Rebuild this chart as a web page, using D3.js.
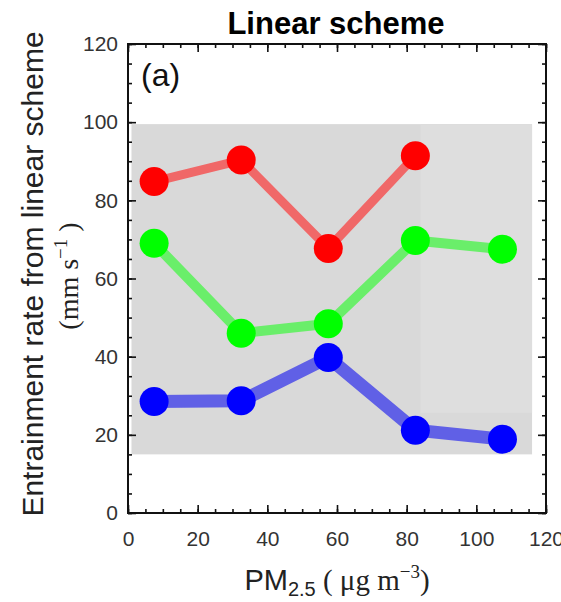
<!DOCTYPE html>
<html>
<head>
<meta charset="utf-8">
<script src="https://cdn.jsdelivr.net/npm/d3@7"></script>
<style>
  body { margin: 0; background: #fff; }
  text { font-family: "Liberation Sans", Arial, sans-serif; }
  .serif { font-family: "Liberation Serif", "Times New Roman", serif; }
</style>
</head>
<body>
<div id="chart"></div>
<script>
// data
var pm25 = [7.5, 32.5, 57.5, 82.5, 107.5];
var redRate = [84.8, 90.3, 67.7, 91.4];
var redPm = [7.5, 32.5, 57.5, 82.5];
var greenRate = [69.0, 46.0, 48.4, 69.7, 67.5];
var blueRate = [28.5, 28.7, 39.8, 21.2, 18.9];
var bandX = [1, 116];
var bandY = [15, 99.5];
var lightX = [84, 116];
var lightY = [25.6, 99.5];
var majorTicks = [0, 20, 40, 60, 80, 100, 120];
var minorTicks = d3.range(0, 121, 5);

// basic setup
var svgWidth = 561;
var svgHeight = 602;
var plot = { left: 128, right: 546, top: 44, bottom: 513 };

var svg = d3.select("#chart")
  .append("svg")
  .attr("width", svgWidth)
  .attr("height", svgHeight);

var x = d3.scaleLinear().domain([0, 120]).range([plot.left, plot.right]);
var y = d3.scaleLinear().domain([0, 120]).range([plot.bottom, plot.top]);

// shaded range
svg.append("rect")
  .attr("x", x(bandX[0]))
  .attr("y", y(bandY[1]))
  .attr("width", x(bandX[1]) - x(bandX[0]))
  .attr("height", y(bandY[0]) - y(bandY[1]))
  .attr("fill", "#d9d9d9");

svg.append("rect")
  .attr("x", x(lightX[0]))
  .attr("y", y(lightY[1]))
  .attr("width", x(lightX[1]) - x(lightX[0]))
  .attr("height", y(lightY[0]) - y(lightY[1]))
  .attr("fill", "#dedede");

// axes, ticks pointing in
function addAxis(axis, transform, showLabels) {
  var g = svg.append("g")
    .attr("transform", transform)
    .style("font-size", "21px")
    .style("font-family", "Liberation Sans, Arial, sans-serif")
    .call(axis);
  g.select(".domain").remove();
  g.selectAll("line").attr("stroke", "#111").attr("stroke-width", 1.6);
  g.selectAll("text").attr("fill", "#333");
  if (!showLabels) g.selectAll("text").remove();
  return g;
}

var tpl = [
  [d3.axisBottom, x, "translate(0," + plot.bottom + ")", true, 18],
  [d3.axisTop, x, "translate(0," + plot.top + ")", false, 12],
  [d3.axisLeft, y, "translate(" + plot.left + ",0)", true, 10],
  [d3.axisRight, y, "translate(" + plot.right + ",0)", false, 12]
];
tpl.forEach(function(t) {
  addAxis(t[0](t[1]).tickValues(minorTicks).tickSize(-4).tickFormat(""), t[2], false);
  var a = t[0](t[1]).tickValues(majorTicks).tickSize(-8).tickPadding(t[4]);
  addAxis(a, t[2], t[3]);
});

// frame
svg.append("rect")
  .attr("x", plot.left)
  .attr("y", plot.top)
  .attr("width", plot.right - plot.left)
  .attr("height", plot.bottom - plot.top)
  .attr("fill", "none")
  .attr("stroke", "#111")
  .attr("stroke-width", 2);

// series
var series = [
  { xs: redPm, ys: redRate, line: "#f06868", dot: "#ff0000", w: 9 },
  { xs: pm25, ys: greenRate, line: "#6aee6a", dot: "#00ff00", w: 10 },
  { xs: pm25, ys: blueRate, line: "#6060e6", dot: "#0000ff", w: 13 }
];

var line = d3.line().x(d => x(d[0])).y(d => y(d[1]));

series.forEach(function(s) {
  var pts = s.xs.map((v, i) => [v, s.ys[i]]);
  svg.append("path")
    .datum(pts)
    .attr("d", line)
    .attr("fill", "none")
    .attr("stroke", s.line)
    .attr("stroke-width", s.w)
    .attr("stroke-linejoin", "round");
  svg.selectAll(null)
    .data(pts)
    .enter()
    .append("circle")
    .attr("cx", d => x(d[0]))
    .attr("cy", d => y(d[1]))
    .attr("r", 14.5)
    .attr("fill", s.dot);
});

// panel label
svg.append("text")
  .attr("x", 141)
  .attr("y", 86)
  .style("font-size", "32px")
  .attr("fill", "#111")
  .text("(a)");

// title
svg.append("text")
  .attr("x", 336)
  .attr("y", 34)
  .attr("text-anchor", "middle")
  .style("font-size", "31px")
  .style("font-weight", "bold")
  .attr("fill", "#000")
  .text("Linear scheme");

// y axis title
svg.append("text")
  .attr("transform", "rotate(-90)")
  .attr("x", -274)
  .attr("y", 43)
  .attr("text-anchor", "middle")
  .style("font-size", "30px")
  .attr("fill", "#222")
  .text("Entrainment rate from linear scheme");

var yUnit = svg.append("text")
  .attr("class", "serif")
  .attr("transform", "rotate(-90)")
  .attr("x", -276)
  .attr("y", 78)
  .attr("text-anchor", "middle")
  .style("font-size", "28px")
  .attr("fill", "#222");
yUnit.append("tspan").text("(mm s");
yUnit.append("tspan").attr("dy", -11).style("font-size", "19px").text("\u22121");
yUnit.append("tspan").attr("dy", 11).text(" )");

// x axis title
var xTitle = svg.append("text")
  .attr("x", 337)
  .attr("y", 590)
  .attr("text-anchor", "middle")
  .style("font-size", "29px")
  .attr("fill", "#222");
xTitle.append("tspan").text("PM");
xTitle.append("tspan").attr("dy", 6).style("font-size", "20px").text("2.5");
xTitle.append("tspan").attr("dy", -6).attr("class", "serif").text(" ( \u03bcg m");
xTitle.append("tspan").attr("dy", -12).attr("class", "serif").style("font-size", "19px").text("\u22123");
xTitle.append("tspan").attr("dy", 12).attr("class", "serif").text(")");
</script>
</body>
</html>
